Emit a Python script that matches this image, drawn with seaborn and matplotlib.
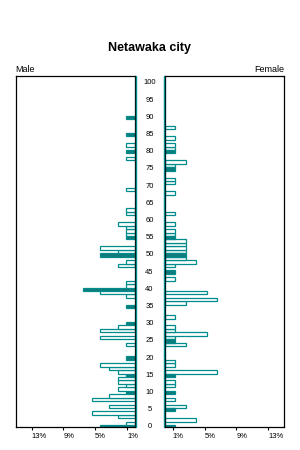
import matplotlib
matplotlib.use("Agg")
import matplotlib.pyplot as plt
import matplotlib.transforms as mtransforms
import numpy as np
import pandas as pd
import seaborn as sns

TEAL = "#008C8C"

title = "Netawaka city"
left_label = "Male"
right_label = "Female"

# ages with a non-zero share, and share of population (%)
male_ages = [90, 85, 82, 80, 78, 69, 63, 62, 59, 58, 57, 56, 55, 52, 51, 50,
             48, 47, 42, 41, 40, 39, 38, 35, 30, 29, 28, 26, 24, 20, 18, 17,
             16, 15, 14, 13, 12, 11, 10, 9, 8, 6, 4, 3, 1, 0]
male_pct = [1.09, 1.09, 1.09, 1.09, 1.09, 1.09, 1.09, 1.09, 2.18, 1.09, 1.09, 1.09, 1.09, 4.36, 2.18, 4.36,
            1.09, 2.18, 1.09, 1.09, 6.54, 4.36, 1.09, 1.09, 1.09, 2.18, 4.36, 4.36, 1.09, 1.09, 4.36, 3.27,
            2.18, 1.09, 2.18, 2.18, 1.09, 2.18, 1.09, 3.27, 5.45, 3.27, 5.45, 2.18, 1.09, 4.36]

female_ages = [87, 84, 82, 81, 80, 77, 76, 75, 72, 71, 68, 62, 59, 57, 56, 55,
               54, 53, 52, 51, 50, 49, 48, 47, 45, 43, 39, 37, 36, 32, 29, 28,
               27, 26, 25, 24, 19, 18, 16, 15, 13, 12, 10, 8, 6, 5, 2, 0]
female_pct = [1.32, 1.32, 1.32, 1.32, 1.32, 2.63, 1.32, 1.32, 1.32, 1.32, 1.32, 1.32, 1.32, 1.32, 1.32, 1.32,
              2.63, 2.63, 2.63, 2.63, 2.63, 2.63, 3.95, 1.32, 1.32, 1.32, 5.26, 6.58, 2.63, 1.32, 1.32, 1.32,
              5.26, 1.32, 1.32, 2.63, 1.32, 1.32, 6.58, 1.32, 1.32, 1.32, 1.32, 1.32, 2.63, 1.32, 3.95, 1.32]

age_labels = list(range(0, 101, 5))
tick_vals = [1, 5, 9, 13]
tick_labels = ["1%", "5%", "9%", "13%"]

sns.set_style("white")
plt.rcParams["font.family"] = ["Liberation Sans", "DejaVu Sans"]
plt.rcParams["text.color"] = "black"
plt.rcParams["xtick.color"] = "black"
plt.rcParams["xtick.labelcolor"] = "black"

W, H = 300, 450
fig = plt.figure(figsize=(3, 4.5), dpi=100)


def rect(x0, x1, ytop, ybot):
    return [x0 / W, 1 - ybot / H, (x1 - x0) / W, (ybot - ytop) / H]


axL = fig.add_axes(rect(15.7, 135, 75.7, 427.3))
axR = fig.add_axes(rect(165, 284, 75.7, 427.3))
axM = fig.add_axes(rect(135, 165, 75.7, 427.3))
axM.axis("off")

YLIM = (-0.12, 102.1)
pal = {"filled": TEAL, "open": "white"}


def make_df(ages, pct):
    df = pd.DataFrame({"age": ages, "pct": pct})
    df["kind"] = np.where(df["age"] % 5 == 0, "filled", "open")
    return df


for ax, ages, pct, xlim in [(axL, male_ages, male_pct, (15, 0)),
                            (axR, female_ages, female_pct, (0, 15))]:
    df = make_df(ages, pct)
    sns.barplot(data=df, x="pct", y="age", hue="kind", palette=pal,
                orient="h", native_scale=True, dodge=False, width=1,
                errorbar=None, edgecolor=TEAL, linewidth=0.9,
                legend=False, ax=ax)
    ax.set_xlim(*xlim)
    ax.set_ylim(*YLIM)
    ax.set_yticks([])
    ax.set_xlabel("")
    ax.set_ylabel("")
    ax.set_xticks(tick_vals, tick_labels)
    ax.tick_params(axis="x", direction="out", length=2.2, width=0.8,
                   pad=2.2, labelsize=5.5, bottom=True, colors="black",
                   labelcolor="black")
    for lbl in ax.get_xticklabels():
        lbl.set_horizontalalignment("left")
        lbl.set_color("black")
    for sp in ax.spines.values():
        sp.set_visible(True)
        sp.set_color("black")
        sp.set_linewidth(0.9)
    # teal base line next to the inner border
    ax.axvline(-0.13, color=TEAL, lw=1.0, clip_on=False, zorder=3)

axM.set_ylim(*YLIM)
tr = mtransforms.blended_transform_factory(axM.transAxes, axM.transData)
for a in age_labels:
    axM.text(0.483, a, str(a), transform=tr, ha="center", va="center",
             fontsize=5.5, color="black")

fig.text(0.5, 1 - 47.7 / H, title, ha="center", va="center",
         fontsize=9, fontweight="bold", color="black")
fig.text(15.7 / W, 1 - 69 / H, left_label, ha="left", va="center",
         fontsize=6.5, color="black")
fig.text(284 / W, 1 - 69 / H, right_label, ha="right", va="center",
         fontsize=6.5, color="black")

fig.savefig("out.png", dpi=100)
